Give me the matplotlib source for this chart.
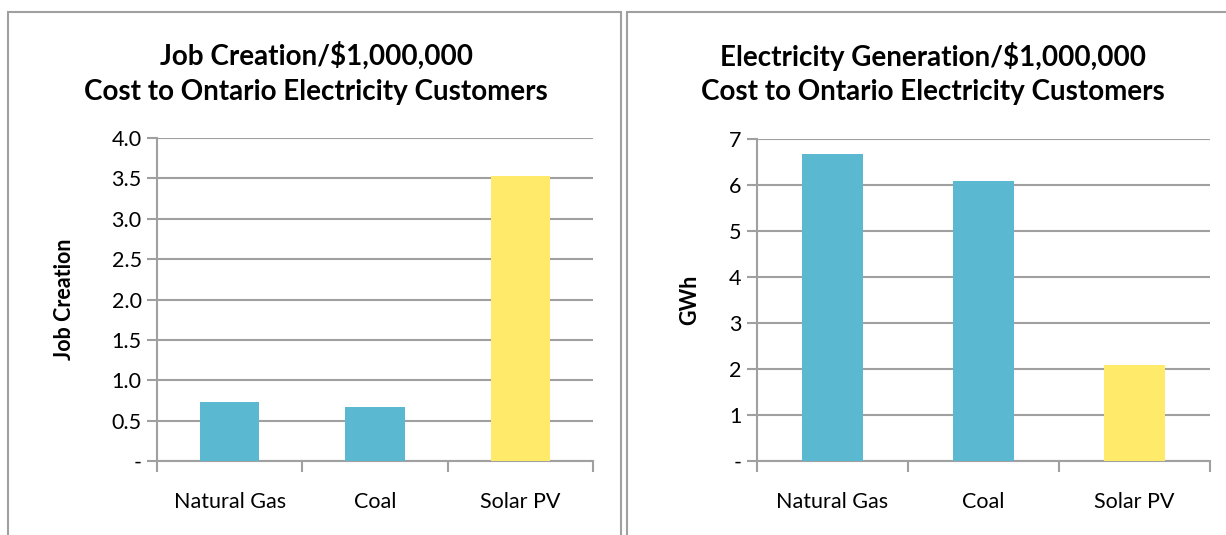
import matplotlib.pyplot as plt
from matplotlib.patches import Rectangle
from matplotlib.ticker import FuncFormatter

plt.rcParams['font.family'] = ['Lato', 'DejaVu Sans']

sources = ["Natural Gas", "Coal", "Solar PV"]
jobs = [0.73, 0.67, 3.53]
gwh = [6.67, 6.09, 2.09]
bar_colors = ["#5bb8d1", "#5bb8d1", "#ffea69"]

grid_col = "#a0a0a0"

fig = plt.figure(figsize=(12.26, 5.35), dpi=100)
W, H = 1226, 535

# panel frames (like the Excel chart area borders)
fig.patches.append(Rectangle((8 / W, -0.05), 613 / W, 1.05 - 12 / H, transform=fig.transFigure,
                             fill=False, edgecolor=grid_col, lw=1.5))
fig.patches.append(Rectangle((627 / W, -0.05), 1.0, 1.05 - 12 / H, transform=fig.transFigure,
                             fill=False, edgecolor=grid_col, lw=1.5))


def draw_panel(rect, values, ymax, step, fmt, ylabel, title, title_x, ylabel_x):
    ax = fig.add_axes(rect)
    x = range(len(sources))
    ax.bar(x, values, width=0.41, color=bar_colors, zorder=3)
    ax.set_xlim(-0.5, len(sources) - 0.5)
    ax.set_ylim(0, ymax)
    ticks = [i * step for i in range(int(round(ymax / step)) + 1)]
    ax.set_yticks(ticks)
    ax.yaxis.set_major_formatter(FuncFormatter(lambda v, p: "-" if v == 0 else fmt.format(v)))
    ax.yaxis.grid(True, color=grid_col, lw=1.5, zorder=0)
    ax.set_xticks(list(x))
    ax.set_xticklabels(sources, fontsize=15.5)
    ax.set_xticks([-0.5, 0.5, 1.5, 2.5], minor=True)
    ax.tick_params(axis='x', which='major', length=0, pad=22)
    ax.tick_params(axis='x', which='minor', length=8, width=1.5, color=grid_col, direction='out')
    ax.tick_params(axis='y', length=7, width=1.5, color=grid_col, labelsize=15.5, pad=4)
    for s in ['top', 'right']:
        ax.spines[s].set_visible(False)
    for s in ['left', 'bottom']:
        ax.spines[s].set_color(grid_col)
        ax.spines[s].set_linewidth(1.5)
    ax.set_ylabel(ylabel, fontsize=15.5, fontweight='bold')
    ax.yaxis.set_label_coords(ylabel_x, 1 - 299.5 / H, transform=fig.transFigure)
    fig.text(title_x / W, 1 - 73.5 / H, title, ha='center', va='center', fontsize=20,
             fontweight='bold', linespacing=1.42)
    return ax


ax1 = draw_panel([157 / W, 74 / H, 436 / W, 323 / H], jobs, 4.0, 0.5, "{:.1f}",
                 "Job Creation", "Job Creation/$1,000,000\nCost to Ontario Electricity Customers",
                 316, 75 / W)
ax2 = draw_panel([757 / W, 74 / H, 453 / W, 322 / H], gwh, 7, 1, "{:.0f}",
                 "GWh", "Electricity Generation/$1,000,000\nCost to Ontario Electricity Customers",
                 933, 700 / W)

fig.savefig("out.png", dpi=100)
